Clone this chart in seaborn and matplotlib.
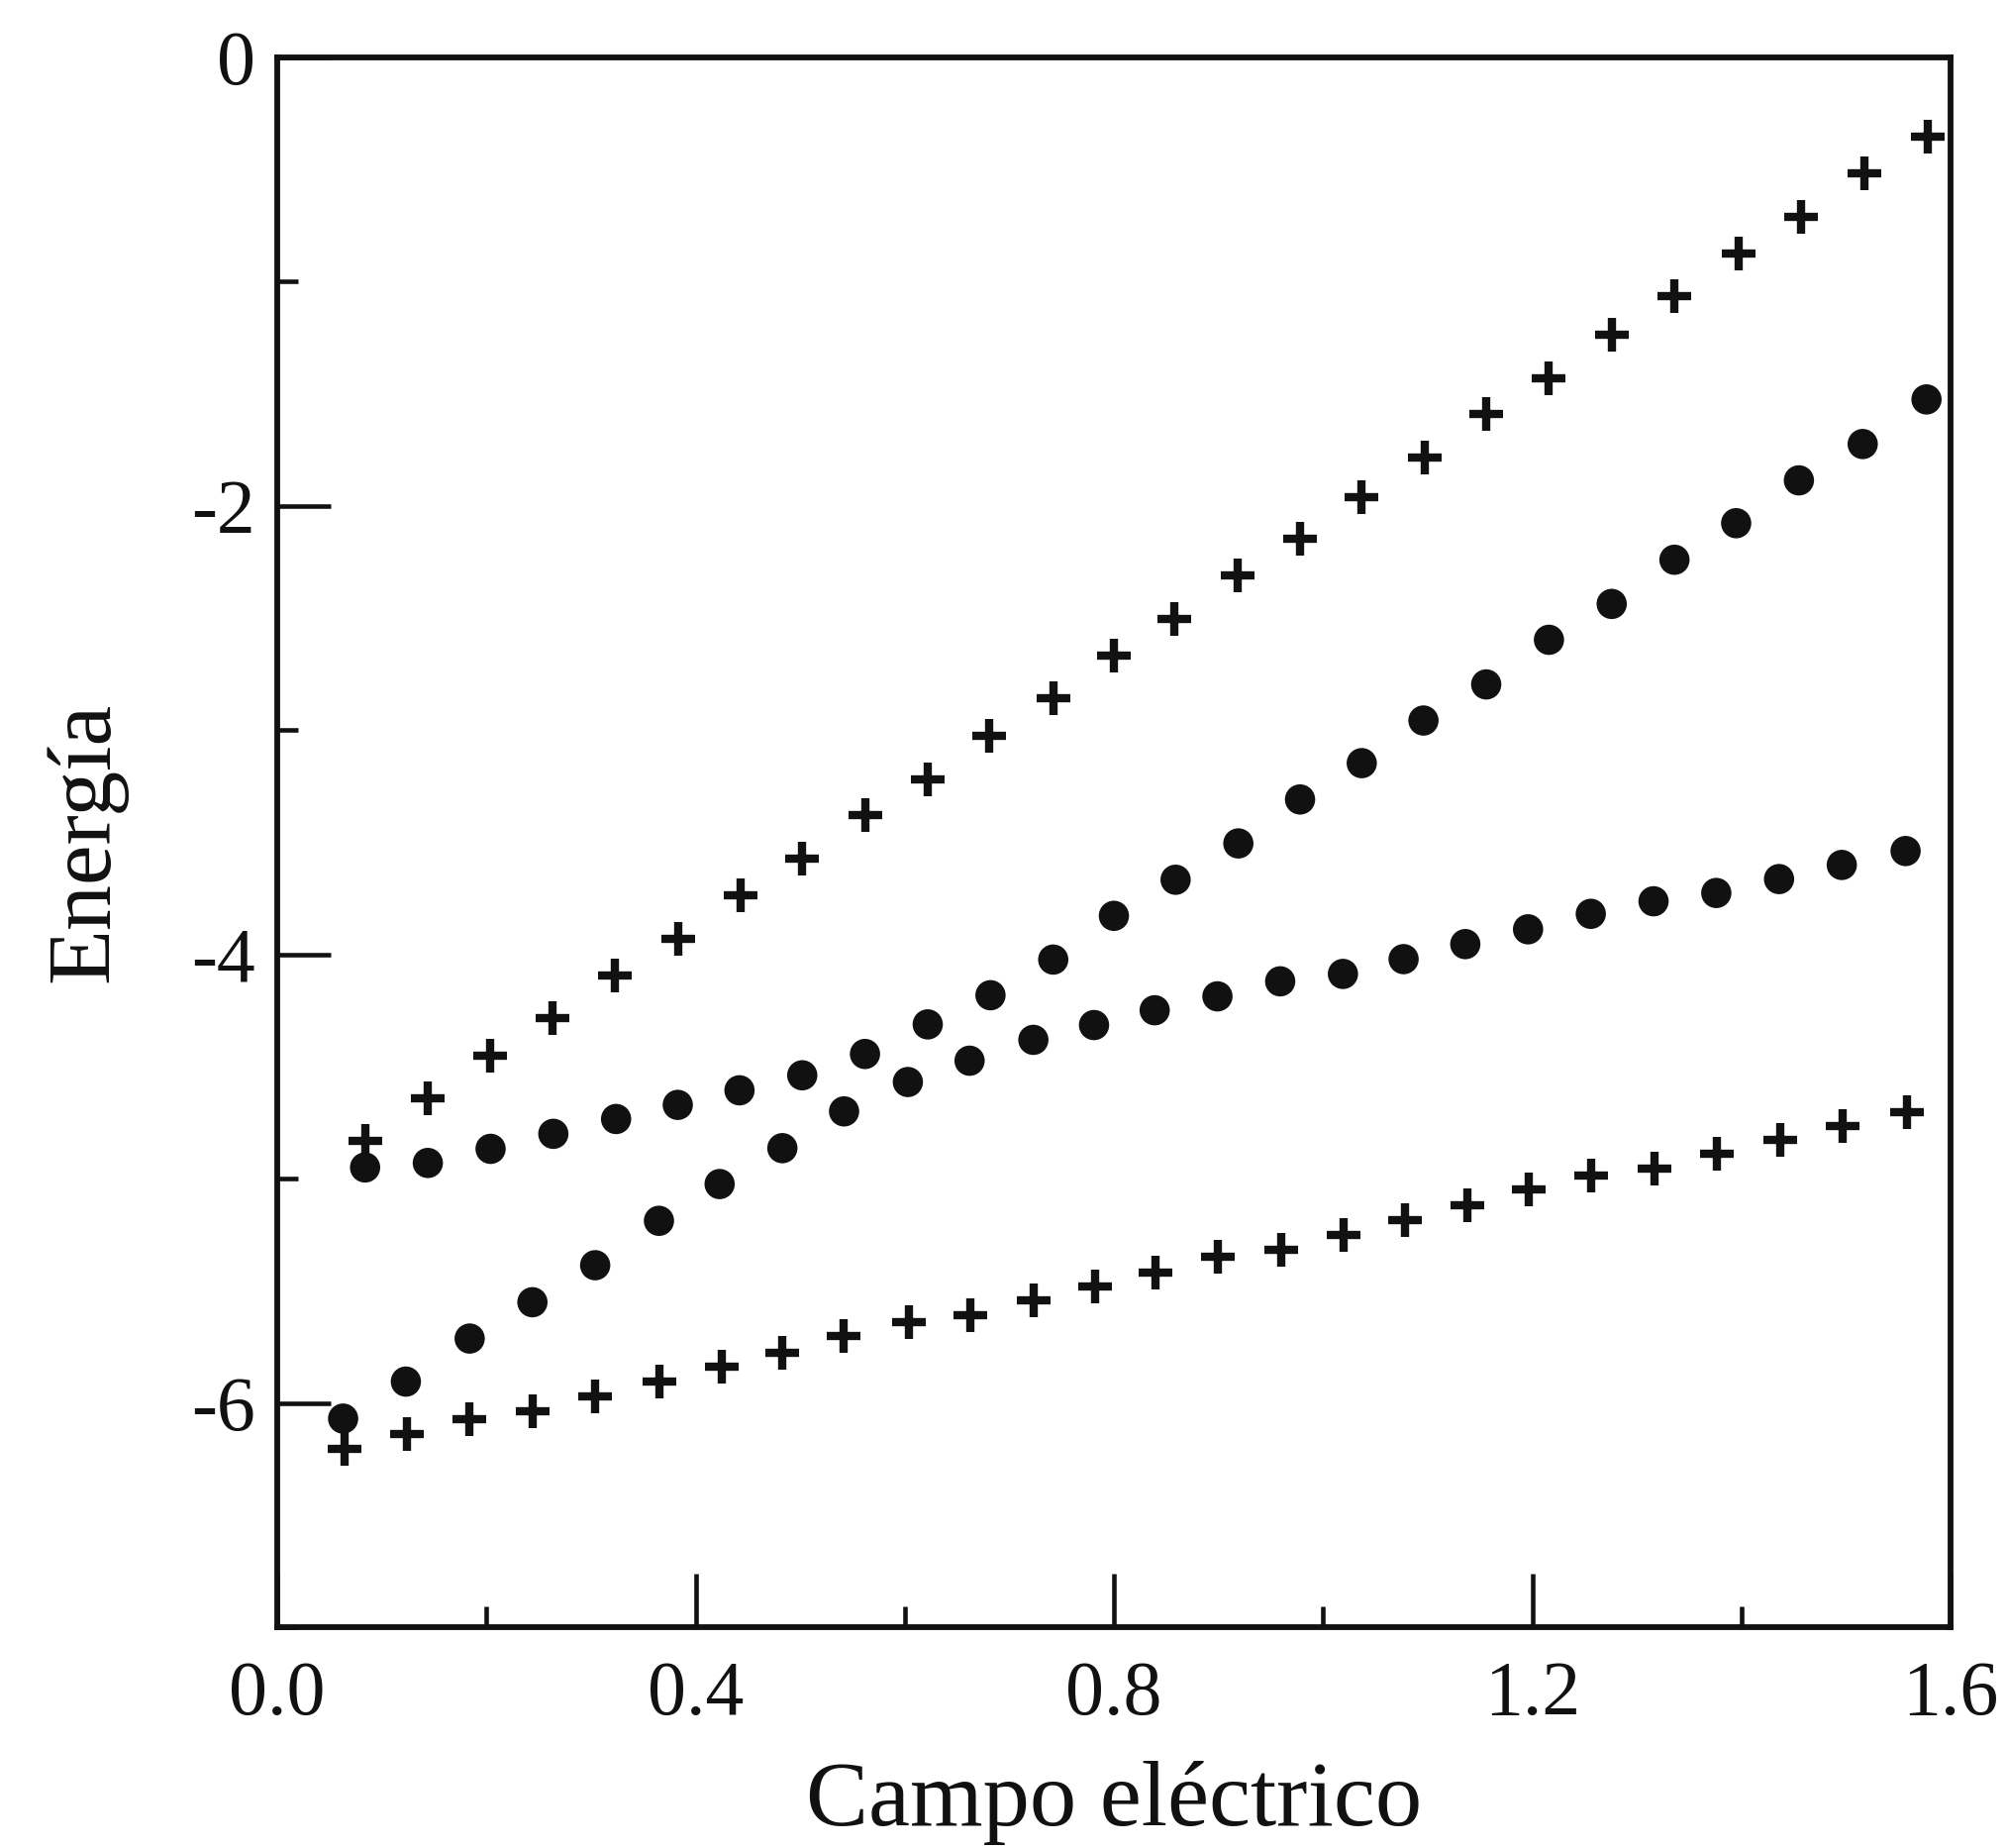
import numpy as np
import pandas as pd
import matplotlib
matplotlib.use("Agg")
import matplotlib.pyplot as plt
import seaborn as sns
from matplotlib.ticker import MultipleLocator, FixedLocator

# ---- data ----
x_plus_upper = [0.084, 0.144, 0.204, 0.263, 0.323, 0.383, 0.443, 0.502, 0.562, 0.622,
                0.681, 0.742, 0.800, 0.858, 0.918, 0.978, 1.037, 1.097, 1.156, 1.216,
                1.276, 1.336, 1.397, 1.457, 1.518, 1.578]
y_plus_upper = [-4.83, -4.64, -4.45, -4.285, -4.094, -3.932, -3.736, -3.574, -3.38, -3.218,
                -3.024, -2.857, -2.666, -2.504, -2.308, -2.146, -1.960, -1.783, -1.591, -1.429,
                -1.235, -1.066, -0.874, -0.711, -0.517, -0.352]

x_dot_b = [0.084, 0.144, 0.204, 0.264, 0.324, 0.383, 0.442, 0.502, 0.562, 0.622,
           0.682, 0.742, 0.800, 0.859, 0.919, 0.978, 1.037, 1.096, 1.156, 1.216,
           1.276, 1.336, 1.395, 1.455, 1.516, 1.577]
y_dot_b = [-4.95, -4.93, -4.867, -4.80, -4.734, -4.671, -4.606, -4.539, -4.444, -4.312,
           -4.182, -4.023, -3.828, -3.667, -3.505, -3.309, -3.147, -2.957, -2.796, -2.597,
           -2.437, -2.24, -2.077, -1.886, -1.724, -1.525]

x_dot_a = [0.063, 0.123, 0.184, 0.244, 0.304, 0.365, 0.423, 0.483, 0.542, 0.603,
           0.662, 0.723, 0.781, 0.839, 0.899, 0.959, 1.019, 1.077, 1.136, 1.196,
           1.256, 1.316, 1.376, 1.436, 1.496, 1.557]
y_dot_a = [-6.07, -5.905, -5.713, -5.551, -5.386, -5.188, -5.024, -4.864, -4.70, -4.569,
           -4.474, -4.381, -4.315, -4.249, -4.187, -4.120, -4.087, -4.021, -3.954, -3.888,
           -3.819, -3.763, -3.726, -3.664, -3.601, -3.539]

x_plus_lower = [0.064, 0.124, 0.184, 0.244, 0.304, 0.365, 0.425, 0.483, 0.542, 0.604,
                0.663, 0.723, 0.782, 0.840, 0.899, 0.960, 1.020, 1.078, 1.138, 1.197,
                1.256, 1.317, 1.377, 1.437, 1.497, 1.558]
y_plus_lower = [-6.206, -6.140, -6.074, -6.037, -5.971, -5.905, -5.838, -5.775, -5.70, -5.640,
                -5.610, -5.544, -5.482, -5.419, -5.350, -5.316, -5.250, -5.183, -5.12, -5.05,
                -4.985, -4.955, -4.889, -4.827, -4.764, -4.702]

x_ticks = [0.0, 0.4, 0.8, 1.2, 1.6]
x_ticklabels = ["0.0", "0.4", "0.8", "1.2", "1.6"]
y_ticks = [0, -2, -4, -6]
y_ticklabels = ["0", "-2", "-4", "-6"]
x_label = "Campo eléctrico"
y_label = "Energía"

# ---- style ----
sns.set_style("white")
plt.rcParams["font.family"] = ["Liberation Serif", "DejaVu Serif"]
plt.rcParams["axes.unicode_minus"] = False

fig = plt.figure(figsize=(20.26, 18.66), dpi=100)
ax = fig.add_axes([280 / 2026, 1 - 1643 / 1866, 1690 / 2026, 1585 / 1866])

dots = pd.DataFrame({"x": x_dot_a + x_dot_b, "y": y_dot_a + y_dot_b})
plus = pd.DataFrame({"x": x_plus_lower + x_plus_upper, "y": y_plus_lower + y_plus_upper})

sns.scatterplot(data=dots, x="x", y="y", ax=ax, marker="o", s=22 ** 2,
                color="#111111", edgecolor="none", zorder=3)
sns.scatterplot(data=plus, x="x", y="y", ax=ax, marker="+", s=25 ** 2,
                color="#111111", linewidth=6, zorder=3)

ax.set_xlim(0, 1.6)
ax.set_ylim(-7, 0)

ax.xaxis.set_major_locator(FixedLocator(x_ticks))
ax.set_xticklabels(x_ticklabels)
ax.xaxis.set_minor_locator(MultipleLocator(0.2))
ax.yaxis.set_major_locator(FixedLocator(y_ticks))
ax.set_yticklabels(y_ticklabels)
ax.yaxis.set_minor_locator(MultipleLocator(1))

for s in ax.spines.values():
    s.set_linewidth(4.2)
    s.set_color("#111111")

ax.tick_params(axis="both", which="major", direction="in", length=39, width=3.3,
               color="#111111", labelsize=56, labelcolor="#111111")
ax.tick_params(axis="both", which="minor", direction="in", length=15, width=3.3,
               color="#111111")
ax.tick_params(axis="y", which="both", right=False, left=True, pad=16)
ax.tick_params(axis="x", which="both", top=False, bottom=True, pad=24)

ax.set_xlabel(x_label, fontsize=68, color="#111111")
ax.set_ylabel(y_label, fontsize=66, color="#111111")
ax.xaxis.set_label_coords(0.5, -0.085)
ax.yaxis.set_label_coords(-0.09, 0.5)

fig.savefig("out.png", dpi=100, facecolor="white")
